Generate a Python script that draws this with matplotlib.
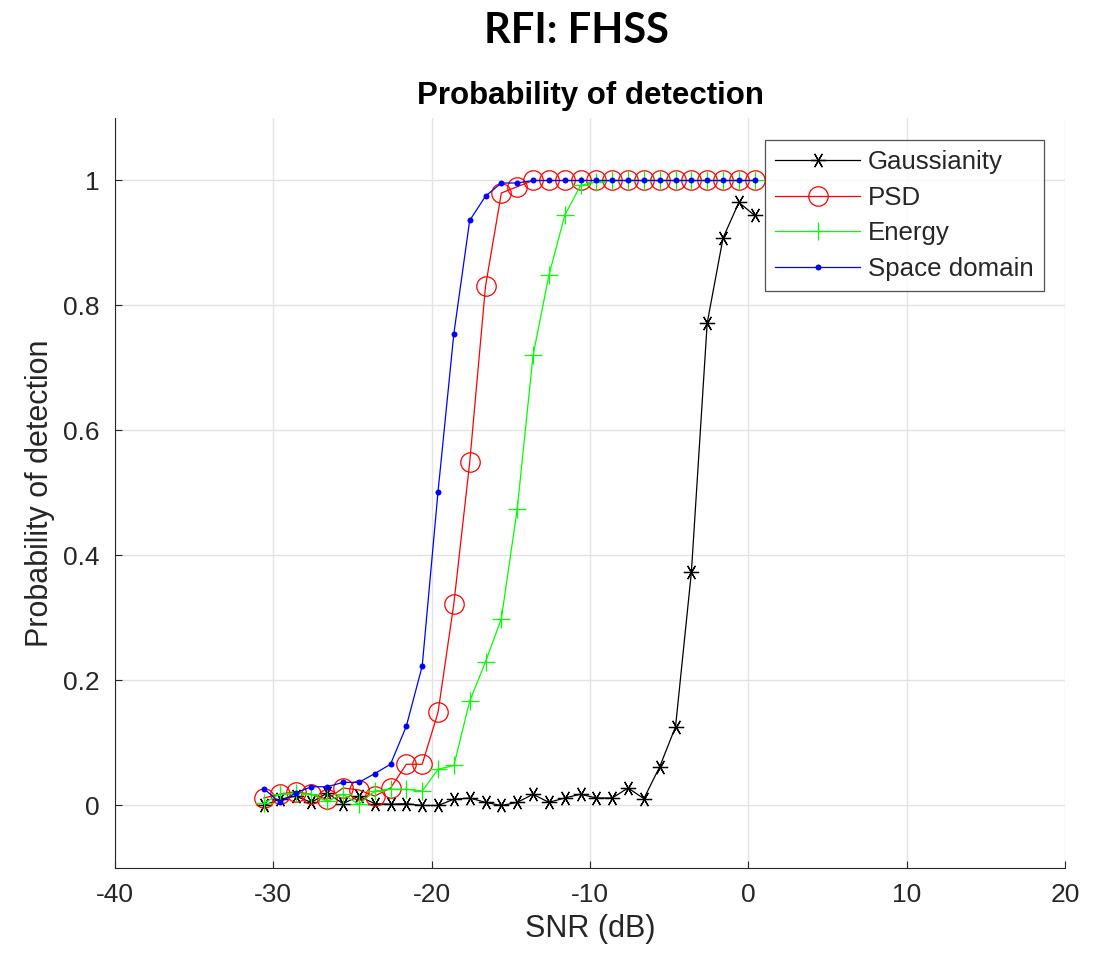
import matplotlib
matplotlib.use('Agg')
import matplotlib.pyplot as plt
import numpy as np

plt.rcParams['font.family'] = ['Liberation Sans', 'DejaVu Sans']
plt.rcParams['axes.unicode_minus'] = False

# SNR grid (dB), 1 dB steps
snr = [-30.6, -29.6, -28.6, -27.6, -26.6, -25.6, -24.6, -23.6, -22.6, -21.6,
       -20.6, -19.6, -18.6, -17.6, -16.6, -15.6, -14.6, -13.6, -12.6, -11.6,
       -10.6, -9.6, -8.6, -7.6, -6.6, -5.6, -4.6, -3.6, -2.6, -1.6, -0.6, 0.4]

gauss = [0.0, 0.01, 0.015, 0.005, 0.02, 0.003, 0.015, 0.003, 0.002, 0.003,
         0.0, 0.0, 0.01, 0.012, 0.005, 0.0, 0.005, 0.018, 0.005, 0.012,
         0.018, 0.012, 0.012, 0.028, 0.011, 0.062, 0.126, 0.373, 0.772, 0.908, 0.965, 0.944]

psd = [0.012, 0.018, 0.022, 0.018, 0.01, 0.028, 0.025, 0.015, 0.028, 0.066,
       0.066, 0.149, 0.323, 0.549, 0.831, 0.98, 0.99, 1.0, 1.0, 1.0,
       1.0, 1.0, 1.0, 1.0, 1.0, 1.0, 1.0, 1.0, 1.0, 1.0, 1.0, 1.0]

energy = [0.004, 0.018, 0.02, 0.018, 0.007, 0.018, 0.002, 0.023, 0.026, 0.026,
          0.023, 0.058, 0.064, 0.167, 0.23, 0.299, 0.474, 0.72, 0.848, 0.944,
          0.992, 0.998, 1.0, 1.0, 1.0, 1.0, 1.0, 1.0, 1.0, 1.0, 1.0, 1.0]

space = [0.027, 0.005, 0.02, 0.03, 0.03, 0.037, 0.037, 0.051, 0.066, 0.127,
         0.223, 0.502, 0.755, 0.936, 0.975, 0.996, 0.996, 1.0, 1.0, 1.0,
         1.0, 1.0, 1.0, 1.0, 1.0, 1.0, 1.0, 1.0, 1.0, 1.0, 1.0, 1.0]

txt = (0.15, 0.15, 0.15)

fig = plt.figure(figsize=(11.07, 9.57), dpi=100)
ax = fig.add_axes([0.1039, 0.0930, 0.8582, 0.7837])

ax.plot(snr, gauss, color='k', lw=0.9, marker=(6, 2, 90), ms=11, mew=0.9, label='Gaussianity')
ax.plot(snr, psd, color='r', lw=0.9, marker='o', ms=14, mfc='none', mew=0.9, label='PSD')
ax.plot(snr, energy, color=(0, 1, 0), lw=0.9, marker='+', ms=12.5, mew=0.9, label='Energy')
ax.plot(snr, space, color='b', lw=0.9, marker='o', ms=4.3, mew=0, label='Space domain')

ax.set_xlim(-40, 20)
ax.set_ylim(-0.1, 1.1)
ax.set_xticks([-40, -30, -20, -10, 0, 10, 20])
ax.set_yticks([0, 0.2, 0.4, 0.6, 0.8, 1])
ax.set_yticklabels(['0', '0.2', '0.4', '0.6', '0.8', '1'])
ax.grid(True, color=(0.89, 0.89, 0.89), lw=1.0)
ax.set_axisbelow(True)
for s in ['top', 'right']:
    ax.spines[s].set_visible(False)
for s in ['left', 'bottom']:
    ax.spines[s].set_color(txt)
ax.tick_params(direction='in', length=5, colors=txt, labelsize=19, pad=11)

ax.set_xlabel('SNR (dB)', fontsize=22, color=txt, labelpad=5)
ax.set_ylabel('Probability of detection', fontsize=22, color=txt, labelpad=6)
ax.set_title('Probability of detection', fontsize=22.5, fontweight='bold', pad=10)

leg = ax.legend(loc='upper right', bbox_to_anchor=(0.978, 0.971), borderaxespad=0,
                fontsize=18.6, fancybox=False, edgecolor=txt,
                handlelength=3.3, handletextpad=0.3, labelspacing=0.45, borderpad=0.4)
leg.get_frame().set_linewidth(0.9)
for t in leg.get_texts():
    t.set_color(txt)

fig.text(0.521, 0.955, 'RFI: FHSS', fontsize=30, fontweight='bold', family='Lato',
         ha='center', va='baseline')

fig.savefig('out.png', dpi=100, facecolor='white')
